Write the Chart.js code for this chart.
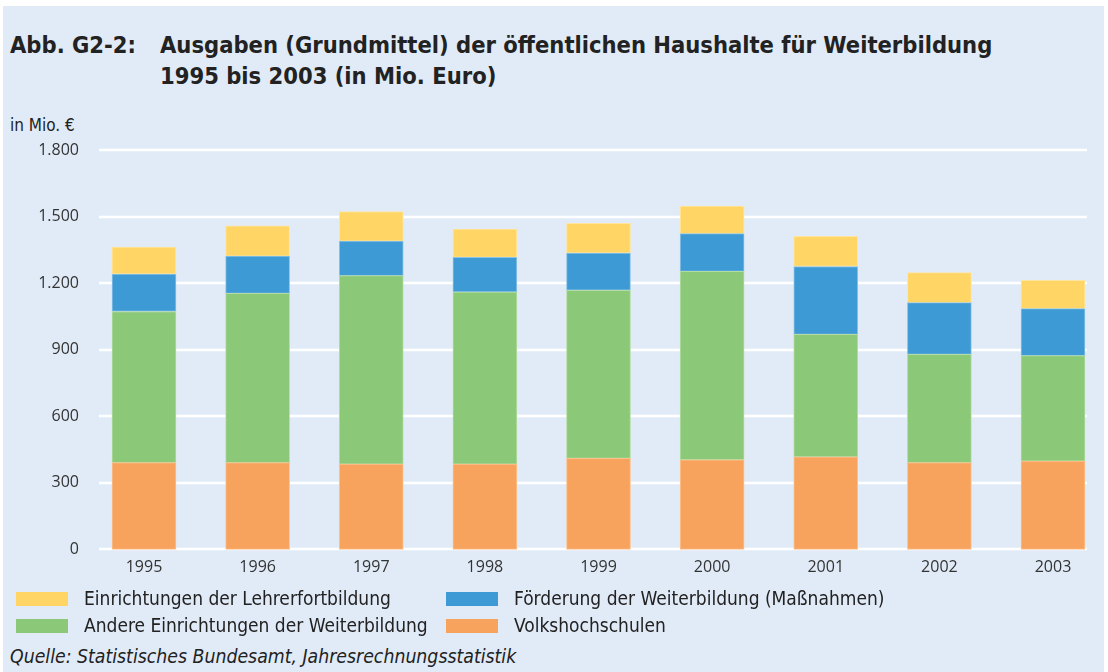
<!DOCTYPE html>
<html>
<head>
<meta charset="utf-8">
<script src="https://cdn.jsdelivr.net/npm/chart.js@4"></script>
<style>
  html, body { margin: 0; padding: 0; }
  body { width: 1108px; height: 672px; background: #fff; overflow: hidden; position: relative; }
  #panel { position: absolute; left: 3px; top: 6px; right: 4px; bottom: 0; background: #e1ebf7; }
  #wrap { position: absolute; left: 0; top: 0; width: 1108px; height: 616px; }
  .txt { position: absolute; color: #222; font-family: "DejaVu Sans Condensed", sans-serif; white-space: nowrap; }
  .title { font-size: 23.5px; font-weight: bold; }
  .item { position: absolute; font-size: 19px; font-family: "DejaVu Sans Condensed", sans-serif; color: #222; white-space: nowrap; }
  .item span.box { position: absolute; width: 52px; height: 14px; top: 5px; }
  .item span.lbl { position: absolute; top: 0; }
</style>
</head>
<body>
<div id="panel"></div>
<div class="txt title" style="left:10px; top:31px;">Abb. G2-2:</div>
<div class="txt title" style="left:160px; top:31px;">Ausgaben (Grundmittel) der öffentlichen Haushalte für Weiterbildung</div>
<div class="txt title" style="left:160px; top:62px;">1995 bis 2003 (in Mio. Euro)</div>
<div class="txt" style="left:10px; top:115px; font-size:17px;">in Mio. €</div>
<div id="wrap"><canvas id="chart"></canvas></div>
<div id="legend"></div>
<div class="txt" style="left:10px; top:645px; font-size:19.3px; font-style:italic;">Quelle: Statistisches Bundesamt, Jahresrechnungsstatistik</div>

<script>
const years = ['1995', '1996', '1997', '1998', '1999', '2000', '2001', '2002', '2003'];

// Mio. Euro
const volkshochschulen = [391, 391, 384, 384, 410, 404, 417, 391, 398];
const andereEinrichtungen = [681, 763, 850, 776, 758, 849, 552, 488, 475];
const foerderung = [169, 168, 155, 156, 168, 170, 306, 233, 212];
const lehrerfortbildung = [121, 136, 134, 128, 134, 124, 136, 135, 128];

const yTicks = [0, 300, 600, 900, 1200, 1500, 1800];

const datasets = [
  { label: 'Volkshochschulen', data: volkshochschulen, backgroundColor: '#f7a35e', borderColor: '#fbc28f' },
  { label: 'Andere Einrichtungen der Weiterbildung', data: andereEinrichtungen, backgroundColor: '#8bc878', borderColor: '#b2dca3' },
  { label: 'Förderung der Weiterbildung (Maßnahmen)', data: foerderung, backgroundColor: '#3d9ad4', borderColor: '#8cc3e6' },
  { label: 'Einrichtungen der Lehrerfortbildung', data: lehrerfortbildung, backgroundColor: '#ffd666', borderColor: '#ffe59e' }
];

// gridlines drawn behind the bars, a bit wider than the category span
const gridPlugin = {
  id: 'grid',
  beforeDatasetsDraw(chart) {
    const { ctx, chartArea, scales } = chart;
    ctx.save();
    ctx.strokeStyle = '#ffffff';
    ctx.lineWidth = 2.5;
    yTicks.forEach(v => {
      const y = Math.round(scales.y.getPixelForValue(v));
      ctx.beginPath();
      ctx.moveTo(chartArea.left - 45, y);
      ctx.lineTo(chartArea.right + 34, y);
      ctx.stroke();
    });
    ctx.restore();
  }
};

new Chart(document.getElementById('chart'), {
  type: 'bar',
  data: {
    labels: years,
    datasets: datasets.map(d => ({
      ...d,
      borderWidth: 1,
      borderSkipped: false,
      barThickness: 64,
      clip: false
    }))
  },
  options: {
    responsive: true,
    maintainAspectRatio: false,
    animation: false,
    layout: { padding: { top: 150, right: 55, bottom: 0, left: 0 } },
    plugins: { legend: { display: false }, tooltip: { enabled: false } },
    scales: {
      x: {
        stacked: true,
        offset: false,
        grid: { display: false },
        border: { display: false },
        ticks: { color: '#333', font: { family: 'Open Sans', size: 16 }, padding: 0, maxRotation: 0 }
      },
      y: {
        stacked: true,
        min: 0,
        max: 1800,
        afterBuildTicks: scale => { scale.ticks = yTicks.map(v => ({ value: v })); },
        afterFit: scale => { scale.width = 144; },
        grid: { display: false },
        border: { display: false },
        ticks: {
          color: '#333',
          padding: 57,
          font: { family: 'Open Sans', size: 16 },
          callback: v => String(v).replace(/\B(?=(\d{3})+(?!\d))/g, '.')
        }
      }
    }
  },
  plugins: [gridPlugin]
});

// two-column legend like the original
const legendOrder = [3, 2, 1, 0];
const legendEl = document.getElementById('legend');
legendOrder.forEach((di, i) => {
  const d = datasets[di];
  const col = i % 2, row = Math.floor(i / 2);
  const item = document.createElement('div');
  item.className = 'item';
  item.style.left = (col === 0 ? 16 : 446) + 'px';
  item.style.top = (587 + row * 27) + 'px';
  item.innerHTML = '<span class="box" style="background:' + d.backgroundColor + '"></span>' +
    '<span class="lbl" style="left:68px">' + d.label + '</span>';
  legendEl.appendChild(item);
});
</script>
</body>
</html>
